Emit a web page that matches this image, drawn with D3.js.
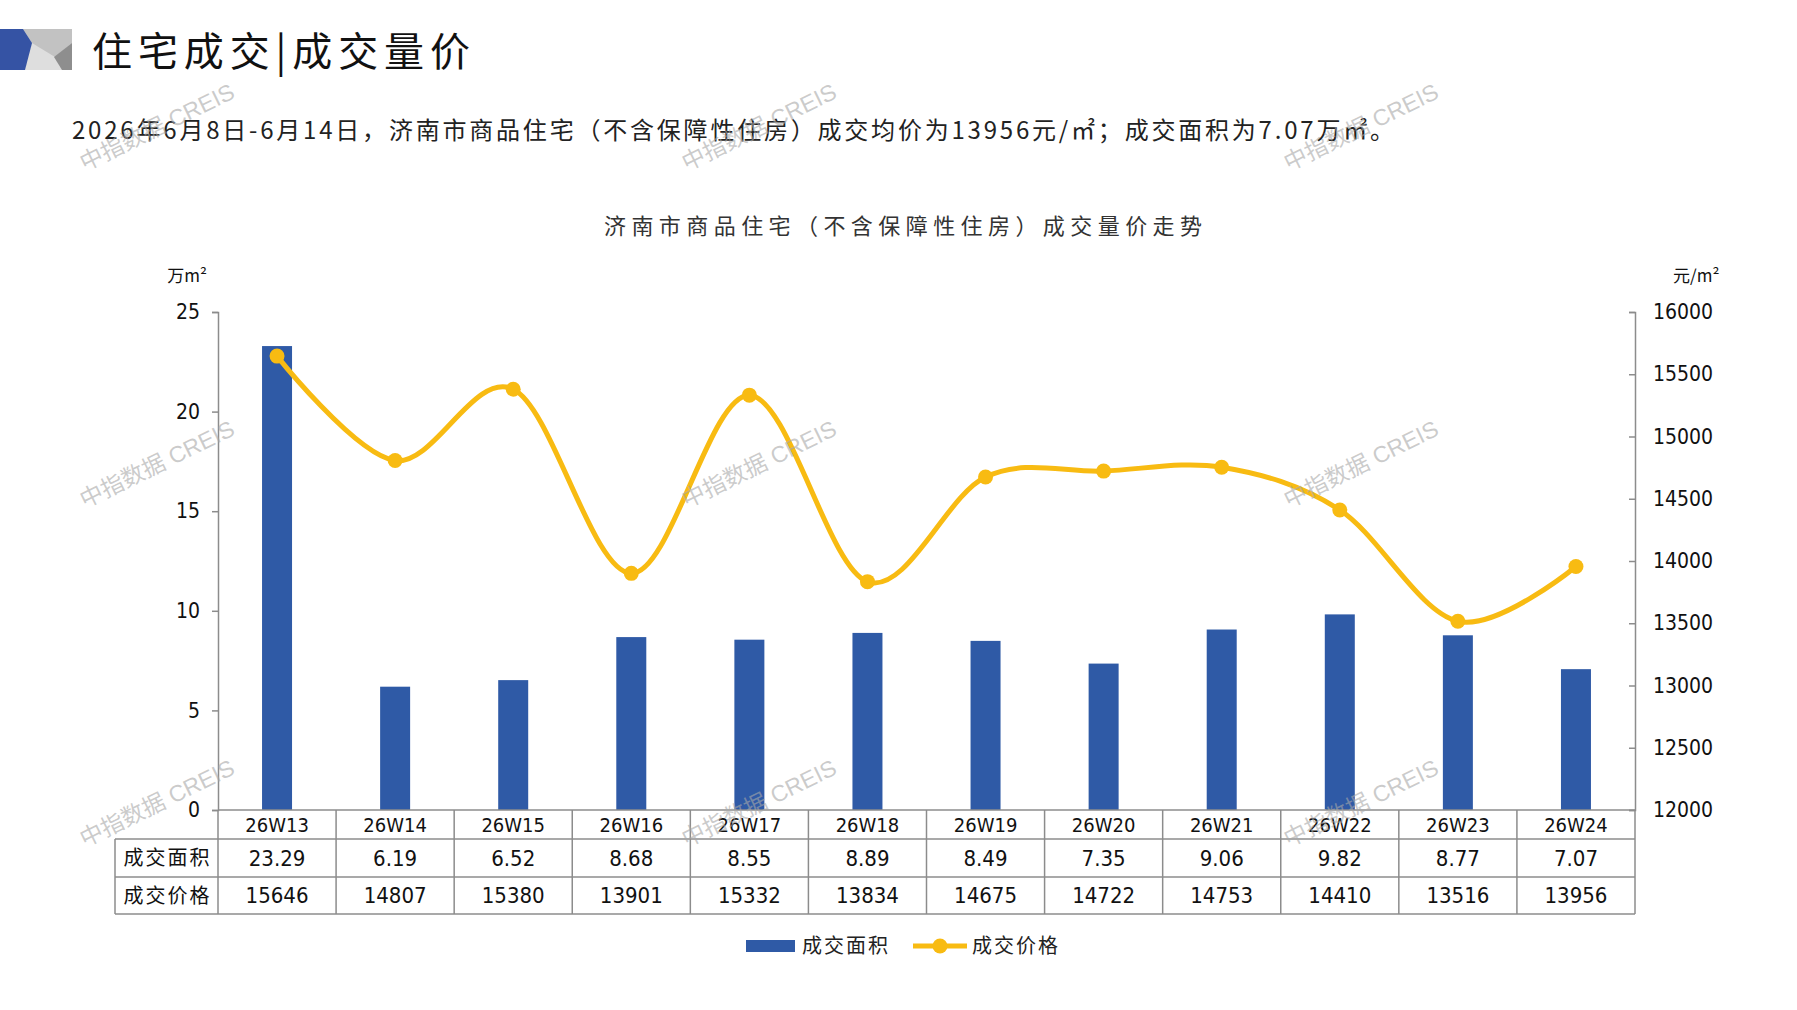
<!DOCTYPE html>
<html lang="zh">
<head>
    <meta charset="UTF-8">
    <title>济南市商品住宅成交量价走势</title>
    <style>
        body { margin: 0; background: #fff; }
        svg { display: block; }
    </style>
</head>
<body>
    <svg id="chart" width="1797" height="1010"></svg>
    <script src="https://cdn.jsdelivr.net/npm/d3@7/dist/d3.min.js"></script>
    <script>
        var weeks = ["26W13", "26W14", "26W15", "26W16", "26W17", "26W18", "26W19", "26W20", "26W21", "26W22", "26W23", "26W24"];
        var area = [23.29, 6.19, 6.52, 8.68, 8.55, 8.89, 8.49, 7.35, 9.06, 9.82, 8.77, 7.07];
        var price = [15646, 14807, 15380, 13901, 15332, 13834, 14675, 14722, 14753, 14410, 13516, 13956];
        var areaTicks = [0, 5, 10, 15, 20, 25];
        var priceTicks = [12000, 12500, 13000, 13500, 14000, 14500, 15000, 15500, 16000];
        var rowNames = ["成交面积", "成交价格"];

        (function () {
        var cjk = "'Noto Sans CJK SC', sans-serif";
        var num = "'Liberation Sans Narrow', 'DejaVu Sans Condensed', 'Liberation Sans', sans-serif";
        var blue = "#2f5aa6", gold = "#f8bb12", gridGray = "#8c8c8c";

        var svg = d3.select("#chart");

        // header logo
        var logo = svg.append("g");
        logo.append("rect").attr("x", 0).attr("y", 29).attr("width", 72).attr("height", 41).attr("fill", "#dedede");
        logo.append("polygon").attr("points", "23,29 72,29 72,43 55,57 32,43").attr("fill", "#c2c2c2");
        logo.append("polygon").attr("points", "72,43 72,70 62,70 54,57").attr("fill", "#8e8e8e");
        logo.append("polygon").attr("points", "0,29 23,29 32,43 25,70 0,70").attr("fill", "#3553a4");

        svg.append("text")
            .attr("x", 92).attr("y", 66)
            .attr("font-family", cjk).attr("font-size", 40)
            .attr("textLength", 378).attr("lengthAdjust", "spacing")
            .attr("fill", "#111")
            .text("住宅成交|成交量价");

        svg.append("text")
            .attr("x", 72).attr("y", 139)
            .attr("font-family", cjk).attr("font-size", 24)
            .attr("textLength", 1322).attr("lengthAdjust", "spacing")
            .attr("fill", "#222")
            .text("2026年6月8日-6月14日，济南市商品住宅（不含保障性住房）成交均价为13956元/㎡；成交面积为7.07万㎡。");

        svg.append("text")
            .attr("x", 903).attr("y", 234)
            .attr("text-anchor", "middle")
            .attr("font-family", cjk).attr("font-size", 22)
            .attr("textLength", 598).attr("lengthAdjust", "spacing")
            .attr("fill", "#333")
            .text("济南市商品住宅（不含保障性住房）成交量价走势");

        var left = 218, right = 1635, plotTop = 312, plotBottom = 810;

        var x = d3.scaleBand().domain(weeks).range([left, right]);
        var yArea = d3.scaleLinear().domain([0, 25]).range([plotBottom, plotTop]);
        var yPrice = d3.scaleLinear().domain([12000, 16000]).range([plotBottom, plotTop]);
        var cx = function (w) { return x(w) + x.bandwidth() / 2; };

        // axes
        var axL = svg.append("g")
            .attr("transform", "translate(" + left + ",0)")
            .call(d3.axisLeft(yArea).tickValues(areaTicks).tickSize(6).tickPadding(12));
        var axR = svg.append("g")
            .attr("transform", "translate(" + right + ",0)")
            .call(d3.axisRight(yPrice).tickValues(priceTicks).tickFormat(d3.format("d")).tickSize(-6).tickPadding(18));
        [axL, axR].forEach(function (g) {
            g.select(".domain").attr("stroke", gridGray).attr("stroke-width", 1.5);
            g.selectAll(".tick line").attr("stroke", gridGray).attr("stroke-width", 1.5);
            g.selectAll(".tick text").attr("font-family", num).attr("font-size", 21).attr("fill", "#111");
        });

        svg.append("text").attr("x", 207).attr("y", 282).attr("text-anchor", "end")
            .attr("font-family", cjk).attr("font-size", 17).attr("fill", "#111").text("万m²");
        svg.append("text").attr("x", 1673).attr("y", 282)
            .attr("font-family", cjk).attr("font-size", 17).attr("fill", "#111").text("元/m²");

        // bars
        svg.append("g").selectAll("rect")
            .data(area)
            .join("rect")
            .attr("x", function (d, i) { return cx(weeks[i]) - 15; })
            .attr("width", 30)
            .attr("y", function (d) { return yArea(d); })
            .attr("height", function (d) { return yArea(0) - yArea(d); })
            .attr("fill", blue);

        // price line
        var line = d3.line()
            .x(function (d, i) { return cx(weeks[i]); })
            .y(function (d) { return yPrice(d); })
            .curve(d3.curveCardinal.tension(0));
        svg.append("path")
            .datum(price)
            .attr("d", line)
            .attr("fill", "none")
            .attr("stroke", gold)
            .attr("stroke-width", 5);
        svg.append("g").selectAll("circle")
            .data(price)
            .join("circle")
            .attr("cx", function (d, i) { return cx(weeks[i]); })
            .attr("cy", function (d) { return yPrice(d); })
            .attr("r", 7.5)
            .attr("fill", gold);

        // data table
        var tableLeft = 115;
        var rowY = [plotBottom, 839, 877, 914];
        var table = svg.append("g").attr("stroke", gridGray).attr("stroke-width", 1.5);
        table.append("line").attr("x1", left).attr("x2", right).attr("y1", rowY[0]).attr("y2", rowY[0]);
        [1, 2, 3].forEach(function (r) {
            table.append("line").attr("x1", tableLeft).attr("x2", right).attr("y1", rowY[r]).attr("y2", rowY[r]);
        });
        table.append("line").attr("x1", tableLeft).attr("x2", tableLeft).attr("y1", rowY[1]).attr("y2", rowY[3]);
        weeks.forEach(function (w) {
            table.append("line").attr("x1", x(w)).attr("x2", x(w)).attr("y1", rowY[0]).attr("y2", rowY[3]);
        });
        table.append("line").attr("x1", right).attr("x2", right).attr("y1", rowY[0]).attr("y2", rowY[3]);

        svg.append("g").selectAll("text")
            .data(weeks)
            .join("text")
            .attr("x", cx).attr("y", (rowY[0] + rowY[1]) / 2)
            .attr("dy", "0.36em").attr("text-anchor", "middle")
            .attr("font-family", num).attr("font-size", 20).attr("fill", "#111")
            .text(function (d) { return d; });
        [area.map(function (v) { return v.toFixed(2); }), price].forEach(function (vals, r) {
            svg.append("g").selectAll("text")
                .data(vals)
                .join("text")
                .attr("x", function (d, i) { return cx(weeks[i]); })
                .attr("y", (rowY[r + 1] + rowY[r + 2]) / 2)
                .attr("dy", "0.36em").attr("text-anchor", "middle")
                .attr("font-family", num).attr("font-size", 22).attr("fill", "#111")
                .text(function (d) { return d; });
            svg.append("text")
                .attr("x", (tableLeft + left) / 2).attr("y", (rowY[r + 1] + rowY[r + 2]) / 2)
                .attr("dy", "0.36em").attr("text-anchor", "middle")
                .attr("font-family", cjk).attr("font-size", 20).attr("fill", "#111")
                .attr("textLength", 86).attr("lengthAdjust", "spacing")
                .text(rowNames[r]);
        });

        // legend
        var lg = svg.append("g").attr("transform", "translate(746,946)");
        lg.append("rect").attr("x", 0).attr("y", -6).attr("width", 49).attr("height", 12).attr("fill", blue);
        lg.append("text").attr("x", 56).attr("dy", "0.36em")
            .attr("font-family", cjk).attr("font-size", 20).attr("fill", "#222")
            .attr("textLength", 86).attr("lengthAdjust", "spacing").text("成交面积");
        lg.append("line").attr("x1", 167).attr("x2", 221).attr("stroke", gold).attr("stroke-width", 5);
        lg.append("circle").attr("cx", 194).attr("r", 7.5).attr("fill", gold);
        lg.append("text").attr("x", 226).attr("dy", "0.36em")
            .attr("font-family", cjk).attr("font-size", 20).attr("fill", "#222")
            .attr("textLength", 86).attr("lengthAdjust", "spacing").text("成交价格");

        // watermarks on top
        [127, 464, 803].forEach(function (wy) {
            [157, 759, 1361].forEach(function (wx) {
                svg.append("text")
                    .attr("transform", "translate(" + wx + "," + wy + ") rotate(-26)")
                    .attr("text-anchor", "middle").attr("dy", "0.35em")
                    .attr("font-family", "'Liberation Sans', " + cjk).attr("font-size", 23)
                    .attr("fill", "#a8a8a8").attr("fill-opacity", 0.6)
                    .text("中指数据 CREIS");
            });
        });
        })();
    </script>
</body>
</html>
